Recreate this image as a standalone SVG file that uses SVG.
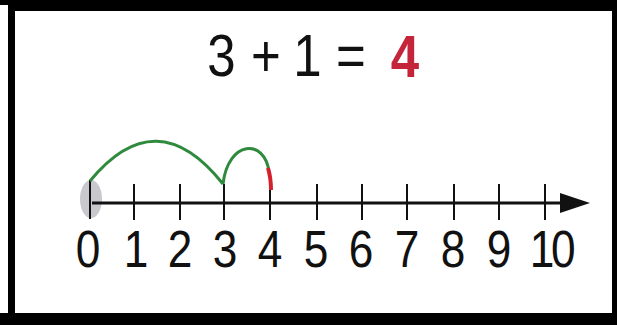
<svg xmlns="http://www.w3.org/2000/svg" width="617" height="325" viewBox="0 0 617 325">
<style>
.t{font-family:"Liberation Sans",Arial,sans-serif;fill:#111;text-anchor:middle}
.ttl{font-size:60px}
.lbl{font-size:52px}
.tick{stroke:#111;stroke-width:2}
</style>
<g id="frame">
<rect x="0" y="0" width="617" height="325" fill="#000"/>
<rect x="0" y="5" width="8" height="308" fill="#fff"/>
<rect x="15" y="11" width="597" height="302" fill="#fff"/>
</g>
<g id="title">
<text class="t ttl" transform="translate(221.5,76) scale(0.85,1)">3</text>
<text class="t ttl" transform="translate(266,76) scale(0.85,1)">+</text>
<text class="t ttl" transform="translate(307.5,76) scale(0.85,1)">1</text>
<text class="t ttl" transform="translate(351,76) scale(0.85,1)">=</text>
<text class="t ttl" transform="translate(405,77) scale(0.85,1)" style="fill:#c4253a;font-weight:bold">4</text>
</g>
<g id="numberline">
<ellipse cx="91" cy="199" rx="11" ry="19" fill="#c9c9cd"/>
<line x1="92" y1="203" x2="565" y2="203" stroke="#111" stroke-width="3"/>
<polygon points="560,193 590,203 560,213" fill="#111"/>
<line class="tick" x1="90" y1="180" x2="90" y2="219"/>
<line class="tick" x1="134" y1="184" x2="134" y2="220"/>
<line class="tick" x1="180" y1="184" x2="180" y2="220"/>
<line class="tick" x1="224" y1="184" x2="224" y2="220"/>
<line class="tick" x1="270" y1="184" x2="270" y2="220"/>
<line class="tick" x1="317" y1="184" x2="317" y2="220"/>
<line class="tick" x1="362" y1="184" x2="362" y2="220"/>
<line class="tick" x1="407" y1="184" x2="407" y2="220"/>
<line class="tick" x1="454" y1="184" x2="454" y2="220"/>
<line class="tick" x1="499" y1="184" x2="499" y2="220"/>
<line class="tick" x1="545" y1="184" x2="545" y2="220"/>
</g>
<g id="labels">
<text class="t lbl" transform="translate(88,267) scale(0.85,1)">0</text>
<text class="t lbl" transform="translate(136,267) scale(0.85,1)">1</text>
<text class="t lbl" transform="translate(180,267) scale(0.85,1)">2</text>
<text class="t lbl" transform="translate(225,267) scale(0.85,1)">3</text>
<text class="t lbl" transform="translate(270,267) scale(0.85,1)">4</text>
<text class="t lbl" transform="translate(316,267) scale(0.85,1)">5</text>
<text class="t lbl" transform="translate(361,267) scale(0.85,1)">6</text>
<text class="t lbl" transform="translate(407,267) scale(0.85,1)">7</text>
<text class="t lbl" transform="translate(453,267) scale(0.85,1)">8</text>
<text class="t lbl" transform="translate(499,267) scale(0.85,1)">9</text>
<text class="t lbl" transform="translate(551,267) scale(0.85,1)" style="letter-spacing:-4px">10</text>
</g>
<g id="connectors" fill="none">
<path d="M90,181 Q156.5,100 223,184" stroke="#2f8a3d" stroke-width="3"/>
<path d="M223,184 C228,140 265,138 269,172" stroke="#2f8a3d" stroke-width="3"/>
<path d="M268,168 Q271,178 271,190" stroke="#d4202c" stroke-width="4"/>
</g>
</svg>
